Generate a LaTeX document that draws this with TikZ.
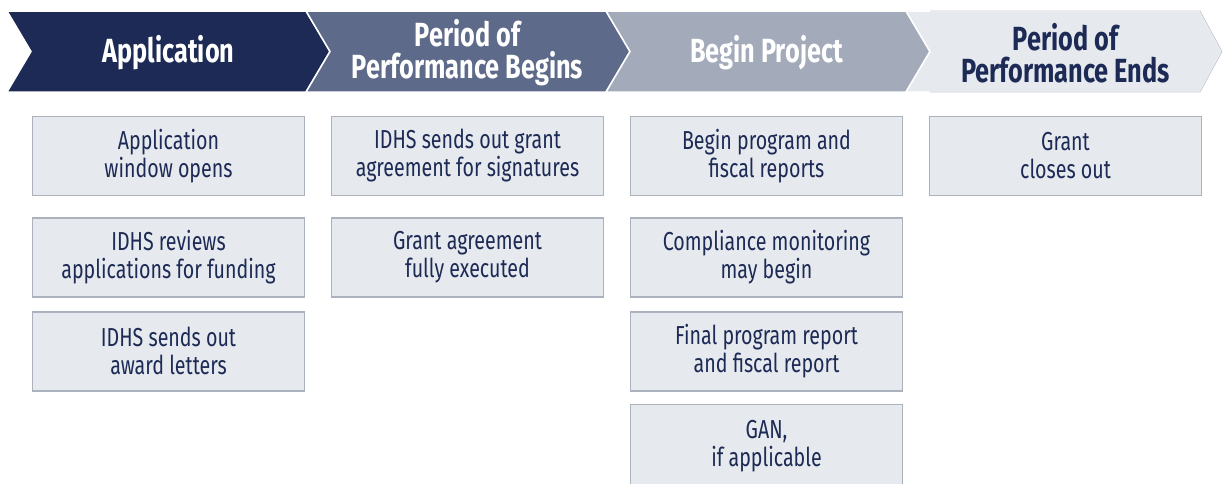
\documentclass[tikz,border=0pt]{standalone}
\usepackage{fontspec}
\setmainfont{Fira Sans}[FakeStretch=0.755]
\usetikzlibrary{positioning}

\definecolor{navy}{HTML}{1C2A55}
\definecolor{slate}{HTML}{5D6A89}
\definecolor{steel}{HTML}{A3AABA}
\definecolor{pale}{HTML}{E6E9ED}
\definecolor{rim}{HTML}{ABB1BD}

\begin{document}
\begin{tikzpicture}[x=1pt,y=-1pt,
    stage/.style={align=center,font=\fontsize{33.5}{32}\selectfont\bfseries},
    task/.style={draw=rim,fill=pale,line width=1.6pt,minimum width=272pt,
        minimum height=79pt,align=center,text=navy,
        font=\fontsize{26}{28}\selectfont},
    band/.style={draw=white,line width=1.5pt}]

    \useasboundingbox (0,0) rectangle (1225,483);
    \clip (0,0) rectangle (1225,483);

    % chevrons
    \filldraw[band,fill=navy]  (7,11) -- (306,11) -- (330,51.5) -- (306,92) -- (7,92) -- (31,51.5) -- cycle;
    \filldraw[band,fill=slate] (306,11) -- (606,11) -- (630,51.5) -- (606,92) -- (306,92) -- (330,51.5) -- cycle;
    \filldraw[band,fill=steel] (606,11) -- (906,11) -- (930,51.5) -- (906,92) -- (606,92) -- (630,51.5) -- cycle;
    \filldraw[band,fill=pale]  (906,11) -- (1200,11) -- (1222,51.5) -- (1200,92) -- (906,92) -- (930,51.5) -- cycle;
    \draw[rim!70,line width=0.8pt] (930,11) -- (1200,11) -- (1222,51.5) -- (1200,92) -- (930,92);

    \node[stage,text=white] (app)   at (168.5,53) {Application};
    \node[stage,text=white] (begin) at (467.5,53) {Period of\\Performance Begins};
    \node[stage,text=navy]  (ends)  at (1065.5,53) {Period of\\Performance Ends};
    \node[stage,text=white] (proj)  at (766.5,53) {Begin Project};

    % column 1
    \node[task] (a1) at (168.5,156) {Application\\window opens};
    \node[task] (a2) [below=21pt of a1] {IDHS reviews\\applications for funding};
    \node[task] (a3) [below=13pt of a2] {IDHS sends out\\award letters};

    % column 2
    \node[task] (b1) at (467.5,156) {IDHS sends out grant\\agreement for signatures};
    \node[task] (b2) [below=21pt of b1] {Grant agreement\\fully executed};

    % column 3
    \node[task] (c1) at (766.5,156) {Begin program and\\fiscal reports};
    \node[task] (c2) [below=21pt of c1] {Compliance monitoring\\may begin};
    \node[task] (c3) [below=13pt of c2] {Final program report\\and fiscal report};
    \node[task,minimum height=86pt,text depth=7pt] (c4) [below=12pt of c3] {GAN,\\if applicable};

    % column 4
    \node[task] (d1) at (1065.5,156) {Grant\\closes out};
\end{tikzpicture}
\end{document}
